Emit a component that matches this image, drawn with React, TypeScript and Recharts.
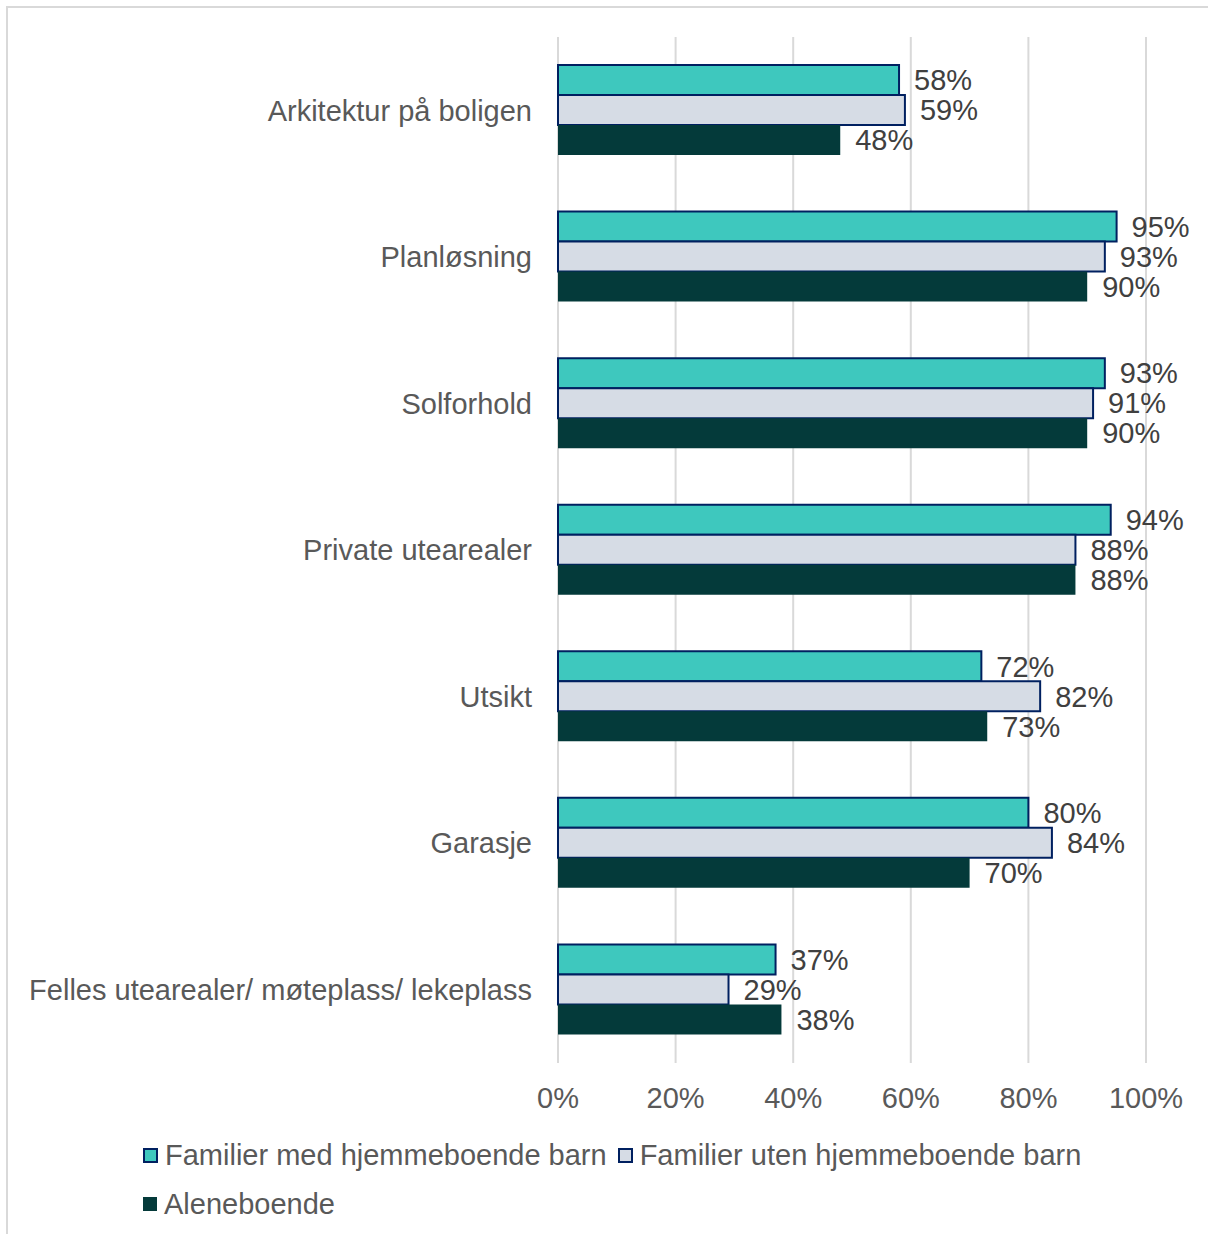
import { BarChart, Bar, XAxis, YAxis, CartesianGrid, LabelList } from "recharts";

const categories = [
  "Arkitektur på boligen",
  "Planløsning",
  "Solforhold",
  "Private utearealer",
  "Utsikt",
  "Garasje",
  "Felles utearealer/ møteplass/ lekeplass",
];
const medBarn = [58, 95, 93, 94, 72, 80, 37];
const utenBarn = [59, 93, 91, 88, 82, 84, 29];
const aleneboende = [48, 90, 90, 88, 73, 70, 38];
const xTicks = [0, 20, 40, 60, 80, 100];

const seriesNames = [
  "Familier med hjemmeboende barn",
  "Familier uten hjemmeboende barn",
  "Aleneboende",
];

const FONT = '"Liberation Sans", Arial, sans-serif';
const FS = 29;
const TEAL = "#3ec8be";
const LIGHT = "#d6dce5";
const DARK = "#043a3a";
const NAVY = "#002060";

const data = categories.map((name, i) => ({
  name,
  med: medBarn[i],
  uten: utenBarn[i],
  alene: aleneboende[i],
}));

const labelStyle = { fill: "#404040", fontSize: FS, fontFamily: FONT };

function LegendItem({ color, stroke, label }: { color: string; stroke?: string; label: string }) {
  return (
    <span style={{ display: "inline-flex", alignItems: "center", marginRight: 11 }}>
      <span
        style={{
          display: "inline-block",
          width: stroke ? 11 : 14,
          height: stroke ? 11 : 14,
          background: color,
          border: stroke ? `2px solid ${stroke}` : "none",
          marginRight: 7,
        }}
      />
      <span>{label}</span>
    </span>
  );
}

export default function App() {
  return (
    <div style={{ position: "absolute", left: 0, top: 0, width: 1208, height: 1234, background: "#fff", overflow: "hidden", fontFamily: FONT }}>
      <div style={{ position: "absolute", left: 6, top: 6, width: 1220, height: 1250, border: "2px solid #d9d9d9" }} />
      <div style={{ position: "absolute", left: 0, top: 0 }}>
        <BarChart
          width={1208}
          height={1234}
          data={data}
          layout="vertical"
          margin={{ top: 37, right: 62, bottom: 111, left: 0 }}
          barGap={0}
          barSize={30}
        >
          <CartesianGrid horizontal={false} stroke="#d9d9d9" strokeWidth={2} />
          <XAxis
            type="number"
            domain={[0, 100]}
            ticks={xTicks}
            tickFormatter={(v) => `${v}%`}
            axisLine={false}
            tickLine={false}
            tickSize={0}
            tickMargin={24}
            height={60}
            interval={0}
            tick={{ fill: "#595959", fontSize: FS, fontFamily: FONT }}
          />
          <YAxis
            type="category"
            dataKey="name"
            width={558}
            axisLine={false}
            tickLine={false}
            tickSize={0}
            tickMargin={26}
            interval={0}
            tick={{ fill: "#595959", fontSize: FS, fontFamily: FONT }}
          />
          <Bar dataKey="med" name={seriesNames[0]} fill={TEAL} stroke={NAVY} strokeWidth={2} isAnimationActive={false}>
            <LabelList dataKey="med" position="right" offset={15} formatter={(v: any) => `${v}%`} style={labelStyle} />
          </Bar>
          <Bar dataKey="uten" name={seriesNames[1]} fill={LIGHT} stroke={NAVY} strokeWidth={2} isAnimationActive={false}>
            <LabelList dataKey="uten" position="right" offset={15} formatter={(v: any) => `${v}%`} style={labelStyle} />
          </Bar>
          <Bar dataKey="alene" name={seriesNames[2]} fill={DARK} isAnimationActive={false}>
            <LabelList dataKey="alene" position="right" offset={15} formatter={(v: any) => `${v}%`} style={labelStyle} />
          </Bar>
        </BarChart>
      </div>
      <div style={{ position: "absolute", left: 143, top: 1136, width: 1060, fontSize: FS, color: "#595959", lineHeight: "38px" }}>
        <div style={{ display: "flex", height: 38 }}>
          <LegendItem color={TEAL} stroke={NAVY} label={seriesNames[0]} />
          <LegendItem color={LIGHT} stroke={NAVY} label={seriesNames[1]} />
        </div>
        <div style={{ display: "flex", marginTop: 11, height: 38 }}>
          <LegendItem color={DARK} label={seriesNames[2]} />
        </div>
      </div>
    </div>
  );
}
